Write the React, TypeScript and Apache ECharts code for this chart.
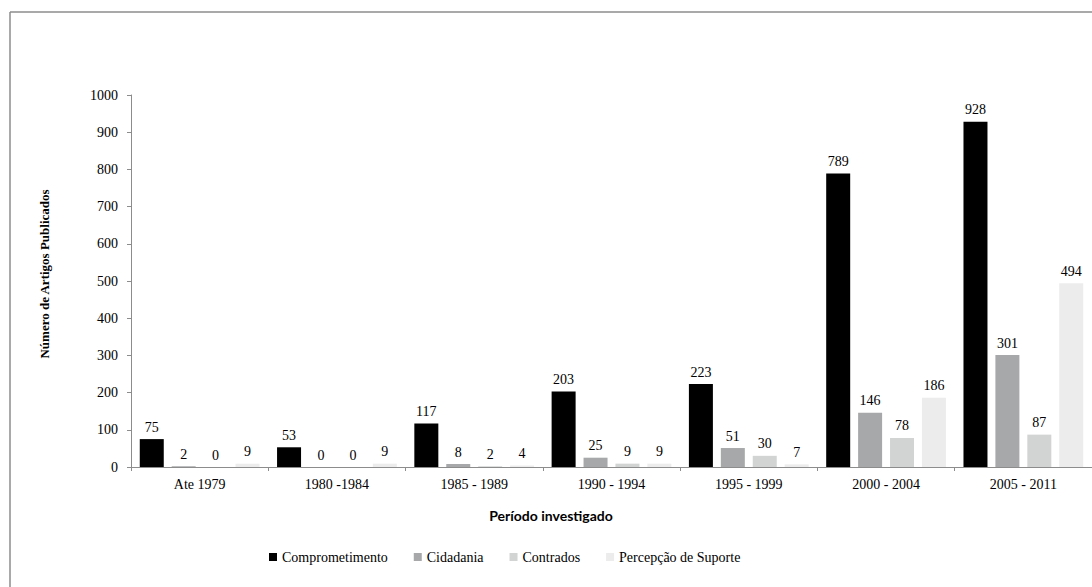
import React, { useEffect, useRef } from "react";
import * as echarts from "echarts";

const categories = ["Ate 1979", "1980 -1984", "1985 - 1989", "1990 - 1994", "1995 - 1999", "2000 - 2004", "2005 - 2011"];
const seriesNames = ["Comprometimento", "Cidadania", "Contrados", "Percepção de Suporte"];
const comprometimento = [75, 53, 117, 203, 223, 789, 928];
const cidadania = [2, 0, 8, 25, 51, 146, 301];
const contrados = [0, 0, 2, 9, 30, 78, 87];
const percepcao = [9, 9, 4, 9, 7, 186, 494];
const colors = ["#000000", "#a6a8a9", "#d2d3d3", "#ececec"];

const serif = "Liberation Serif";

export default function App() {
  const ref = useRef<HTMLDivElement>(null);
  useEffect(() => {
    if (!ref.current) return;
    const chart = echarts.init(ref.current, null, { renderer: "svg" });
    const values = [comprometimento, cidadania, contrados, percepcao];
    chart.setOption({
      animation: false,
      backgroundColor: "#ffffff",
      textStyle: { fontFamily: serif },
      grid: { left: 131, right: -5, top: 95, bottom: 120 },
      legend: {
        left: 264,
        top: 545,
        icon: "rect",
        itemWidth: 8,
        itemHeight: 8,
        itemGap: 26,
        textStyle: { fontFamily: serif, fontSize: 14, color: "#000" },
        data: seriesNames,
      },
      xAxis: {
        type: "category",
        data: categories,
        axisLine: { lineStyle: { color: "#8c8c8c", width: 1 } },
        axisTick: { show: true, length: 4, lineStyle: { color: "#8c8c8c" } },
        axisLabel: { margin: 10, fontFamily: serif, fontSize: 14, color: "#000" },
      },
      yAxis: {
        type: "value",
        min: 0,
        max: 1000,
        interval: 100,
        splitLine: { show: false },
        axisLine: { show: true, lineStyle: { color: "#8c8c8c", width: 1 } },
        axisTick: { show: true, length: 4, lineStyle: { color: "#8c8c8c" } },
        axisLabel: {
          margin: 13,
          fontFamily: serif,
          fontSize: 14,
          color: "#000",
          formatter: (v: number) => String(v),
        },
        name: "Número de Artigos Publicados",
        nameLocation: "middle",
        nameRotate: 90,
        nameGap: 80,
        nameTextStyle: { fontFamily: serif, fontSize: 13, fontWeight: "bold", color: "#000", padding: [0, 0, 0, 14] },
      },
      graphic: [
        { type: "line", shape: { x1: 10, y1: 12, x2: 1092, y2: 12 }, style: { stroke: "#8c8c8c", lineWidth: 1.5 } },
        { type: "line", shape: { x1: 10, y1: 12, x2: 10, y2: 587 }, style: { stroke: "#8c8c8c", lineWidth: 1.5 } },
        {
          type: "text",
          x: 551,
          y: 515,
          style: {
            text: "Período investigado",
            fontFamily: "Lato",
            fontWeight: "bold",
            fontSize: 14,
            fill: "#000",
            align: "center",
            verticalAlign: "middle",
          },
        },
      ],
      series: seriesNames.map((name, i) => ({
        name,
        type: "bar",
        data: values[i],
        barWidth: 24,
        barGap: "33%",
        itemStyle: { color: colors[i] },
        label: {
          show: true,
          position: "top",
          distance: 5,
          fontFamily: serif,
          fontSize: 14,
          color: "#000",
        },
      })),
    });
    return () => chart.dispose();
  }, []);
  return <div ref={ref} style={{ position: "fixed", left: 0, top: 0, width: 1092, height: 587 }} />;
}
